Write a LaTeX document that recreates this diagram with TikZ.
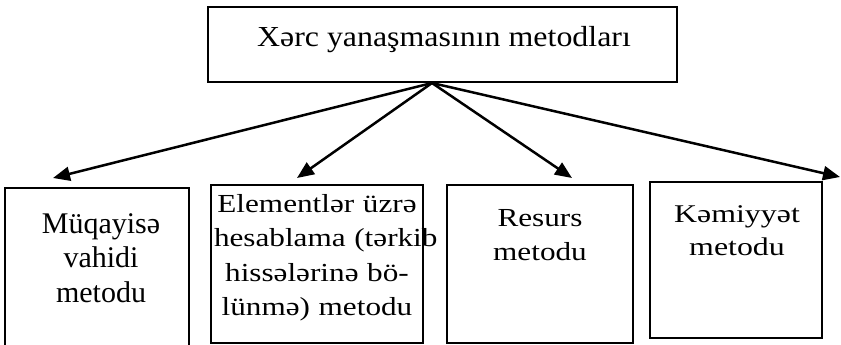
\documentclass[tikz,border=0pt]{standalone}
\usepackage{fontspec}
\setmainfont{Liberation Serif}
\newfontfamily\headfont[FakeStretch=1.1]{Liberation Serif}
\newfontfamily\widefont[FakeStretch=1.2]{Liberation Serif}
\newfontfamily\widerfont[FakeStretch=1.25]{Liberation Serif}
\usetikzlibrary{arrows.meta}
\begin{document}
\begin{tikzpicture}[x=1pt,y=-1pt,
  box/.style={draw=black,line width=1.3pt,rectangle,inner sep=0pt},
  label/.style={inner sep=0pt,anchor=base,align=center},
  link/.style={line width=2.5pt,-{Triangle[length=17pt,width=14pt]}}]
  \useasboundingbox (0,0) rectangle (841,345);

  % heading box
  \node[box,minimum width=469pt,minimum height=75pt] (head) at (442.5,44.5) {};
  \node[label,font=\headfont\fontsize{29}{34}\selectfont] (headtxt) at (444,47)
    {Xərc yanaşmasının metodları};

  % method boxes
  \node[box,minimum width=184pt,minimum height=162pt] (b1) at (97,269) {};
  \node[box,minimum width=212pt,minimum height=158pt] (b2) at (317,264) {};
  \node[box,minimum width=186pt,minimum height=158pt] (b3) at (540,264) {};
  \node[box,minimum width=172pt,minimum height=156pt] (b4) at (736,260) {};

  \node[label,text width=180pt,font=\fontsize{30}{34.5}\selectfont] (t1) at (101,233)
    {Müqayisə\\vahidi\\metodu};
  \node[label,text width=206pt,font=\widefont\fontsize{26}{34.5}\selectfont] (t2) at (317,212)
    {Elementlər üzrə\\\mbox{hesablama (tərkib}\\hissələrinə bö-\\lünmə) metodu};
  \node[label,text width=180pt,font=\widefont\fontsize{26}{34}\selectfont] (t3) at (540,226)
    {Resurs\\metodu};
  \node[label,text width=168pt,font=\widerfont\fontsize{25.5}{33.5}\selectfont] (t4) at (737,222)
    {Kəmiyyət\\metodu};

  % connectors
  \coordinate (apex) at (432,83);
  \coordinate (e1) at (53,178);
  \coordinate (e2) at (297,178);
  \coordinate (e3) at (572,178);
  \coordinate (e4) at (840,177);
  \draw[link] (apex) -- (e1);
  \draw[link] (apex) -- (e2);
  \draw[link] (apex) -- (e3);
  \draw[link] (apex) -- (e4);
\end{tikzpicture}
\end{document}
